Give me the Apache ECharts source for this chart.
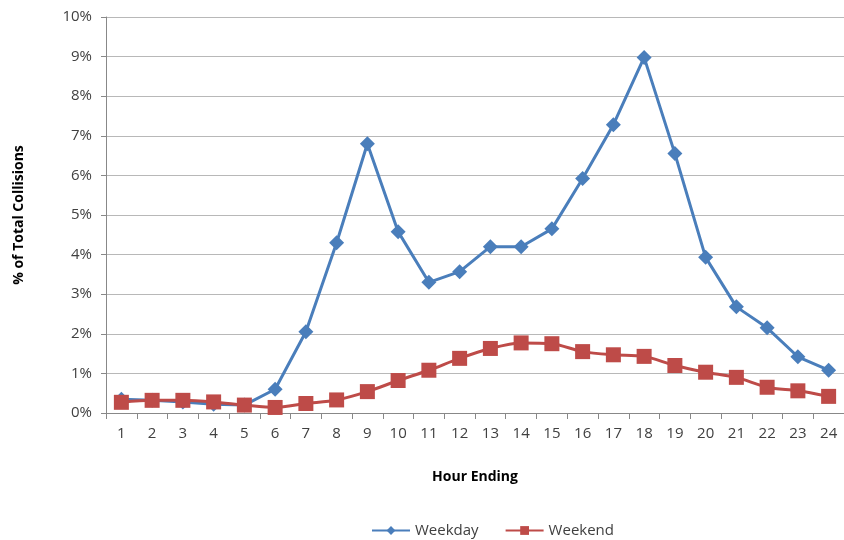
<!DOCTYPE html>
<html><head><meta charset="utf-8">
<script src="https://cdn.jsdelivr.net/npm/echarts@6/dist/echarts.min.js"></script>
<style>html,body{margin:0;padding:0;background:#fff}#c{width:844px;height:540px}</style>
</head><body><div id="c"></div>
<script>
const hours = ['1','2','3','4','5','6','7','8','9','10','11','12','13','14','15','16','17','18','19','20','21','22','23','24'];
const weekday = [0.35,0.32,0.28,0.22,0.20,0.60,2.05,4.30,6.80,4.58,3.30,3.57,4.20,4.20,4.65,5.92,7.28,8.98,6.55,3.93,2.68,2.15,1.42,1.08];
const weekend = [0.27,0.32,0.32,0.28,0.20,0.14,0.24,0.33,0.54,0.82,1.08,1.38,1.63,1.77,1.75,1.55,1.47,1.43,1.20,1.03,0.90,0.65,0.56,0.42];
const yTicks = [0,1,2,3,4,5,6,7,8,9,10];

const chart = echarts.init(document.getElementById('c'));
const font = '"Open Sans", "Liberation Sans", sans-serif';
chart.setOption({
  animation: false,
  textStyle: {fontFamily: font},
  grid: {left: 106, width: 741, top: 17, bottom: 127},
  legend: {
    bottom: -3, left: 366, itemWidth: 38, itemHeight: 11, itemGap: 26,
    textStyle: {fontSize: 15, color: '#404040', fontFamily: font},
    data: ['Weekday', 'Weekend']
  },
  xAxis: {
    type: 'category', data: hours, boundaryGap: true,
    name: 'Hour Ending', nameLocation: 'middle', nameGap: 57,
    nameTextStyle: {fontSize: 14, fontWeight: 'bold', color: '#000', fontFamily: font},
    axisLine: {lineStyle: {color: '#888', width: 1}},
    axisTick: {show: true, length: 6, lineStyle: {color: '#888'}},
    axisLabel: {fontSize: 15, color: '#404040', margin: 13}
  },
  yAxis: {
    type: 'value', min: 0, max: 10, interval: 1,
    name: '% of Total Collisions', nameLocation: 'middle', nameGap: 80, nameRotate: 90,
    nameTextStyle: {fontSize: 14, fontWeight: 'bold', color: '#000', fontFamily: font},
    axisLine: {show: true, lineStyle: {color: '#888'}},
    axisTick: {show: true, length: 5, lineStyle: {color: '#888'}},
    axisLabel: {fontSize: 15, color: '#404040', margin: 14, formatter: v => v + '%'},
    splitLine: {lineStyle: {color: '#b8b8b8', width: 1}}
  },
  series: [
    {
      name: 'Weekday', type: 'line', data: weekday,
      symbol: 'diamond', symbolSize: 15,
      lineStyle: {color: '#4a7ebb', width: 3},
      itemStyle: {color: '#4a7ebb'}
    },
    {
      name: 'Weekend', type: 'line', data: weekend, smooth: 0.3,
      symbol: 'rect', symbolSize: 15,
      lineStyle: {color: '#be4b48', width: 3},
      itemStyle: {color: '#be4b48'}
    }
  ]
});
</script></body></html>
